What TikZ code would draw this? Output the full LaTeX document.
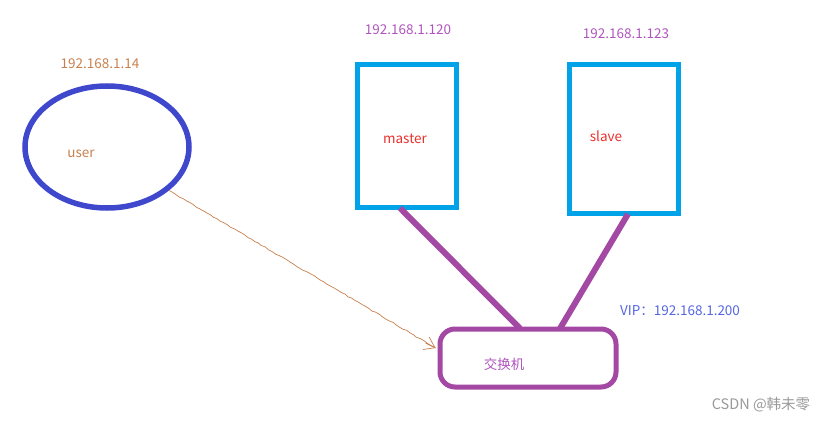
\documentclass[tikz,border=0pt]{standalone}
\usepackage{fontspec}
\setmainfont{Noto Sans CJK SC}
\usetikzlibrary{calc,arrows.meta,decorations.pathmorphing,shapes.geometric}
\definecolor{ublue}{HTML}{3F48CC}
\definecolor{cyanb}{HTML}{00A2E8}
\definecolor{purp}{HTML}{A349A4}
\definecolor{ipbrown}{HTML}{C8804E}
\definecolor{ippurp}{HTML}{B055BE}
\definecolor{redt}{HTML}{E8302C}
\definecolor{viptext}{HTML}{5566E0}
\tikzset{
  lbl/.style={font=\fontsize{13.5}{15}\selectfont, inner sep=0pt},
  server/.style={draw=cyanb, line width=5pt, minimum width=99pt},
  link/.style={draw=purp, line width=6pt},
}
\begin{document}
\begin{tikzpicture}[x=1pt,y=-1pt]
\useasboundingbox (0,0) rectangle (827,422);
% user
\node[draw=ublue, line width=5.5pt, ellipse, minimum width=164pt, minimum height=122pt, inner sep=0pt] (user) at (107,147) {};
\node[lbl, text=ipbrown] (userlbl) at (81,154) {user};
\node[lbl, text=ipbrown] (userip) at (100,64) {192.168.1.14};
% master
\node[server, minimum height=143pt] (master) at (407,136) {};
\node[lbl, text=redt] (masterlbl) at (405,139) {master};
\node[lbl, text=ippurp] (masterip) at (408,30) {192.168.1.120};
% slave
\node[server, minimum width=109pt, minimum height=149pt] (slave) at (624,139) {};
\node[lbl, text=redt] (slavelbl) at (606,136) {slave};
\node[lbl, text=ippurp] (slaveip) at (626,34) {192.168.1.123};
% switch
\node[draw=purp, line width=5pt, rounded corners=15pt, minimum width=176pt, minimum height=58pt] (sw) at (528,358) {};
\node[lbl, text=ippurp] (swlbl) at (504,364) {交换机};
\node[lbl, text=viptext] (vip) at (680,311) {VIP：192.168.1.200};
% links
\draw[link] ($(master.south)+(-7,-2)$) -- ($(sw.north)+(-8,2)$);
\draw[link] ($(slave.south)+(4,-2)$) -- ($(sw.north)+(32,2)$);
% arrow
\draw[draw=ipbrown, line width=0.7pt, decorate, decoration={random steps, segment length=4pt, amplitude=0.6pt}]
  (user.-35) -- ($(sw.west)+(-2,-10)$);
\draw[draw=ipbrown, line width=0.7pt, -{Straight Barb[length=10pt,width=14pt]}]
  ($(sw.west)+(-12,-15)$) -- ($(sw.west)+(-2,-10)$);
% watermark
\node[lbl, text=gray!80, font=\fontsize{14.5}{16}\selectfont] (csdn) at (761,405) {CSDN @韩未零};
\end{tikzpicture}
\end{document}
